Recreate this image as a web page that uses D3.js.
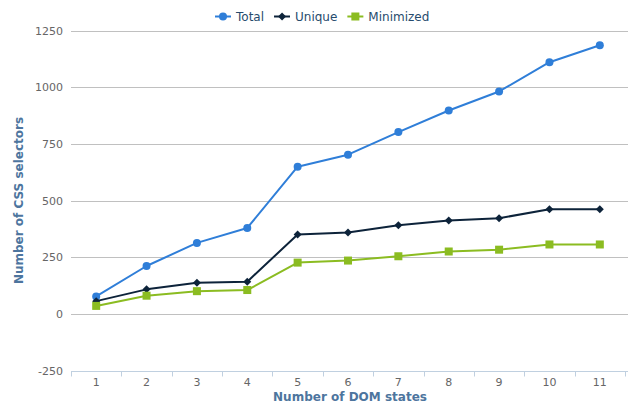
<!DOCTYPE html>
<html>
<head>
<meta charset="utf-8">
<script src="https://cdn.jsdelivr.net/npm/d3@7"></script>
<style>
  html, body { margin: 0; padding: 0; background: #fff; }
  svg { display: block; font-family: "DejaVu Sans", Verdana, sans-serif; }
</style>
</head>
<body>
<svg id="chart" width="632" height="404"></svg>
<script>
const categories = ["1", "2", "3", "4", "5", "6", "7", "8", "9", "10", "11"];
const totalValues = [77, 211, 313, 379, 649, 702, 802, 897, 981, 1110, 1185];
const uniqueValues = [56, 108, 137, 142, 350, 359, 391, 412, 422, 461, 461];
const minimizedValues = [35, 80, 100, 105, 226, 235, 254, 275, 283, 306, 306];
const yTicks = [-250, 0, 250, 500, 750, 1000, 1250];
const seriesNames = ["Total", "Unique", "Minimized"];
const seriesColors = ["#2f7ed8", "#0d233a", "#8bbc21"];
const seriesSymbols = ["circle", "diamond", "square"];
const yTitle = "Number of CSS selectors";
const xTitle = "Number of DOM states";

const series = [totalValues, uniqueValues, minimizedValues].map((v, i) => ({
  name: seriesNames[i], color: seriesColors[i], symbol: seriesSymbols[i], values: v
}));

const svg = d3.select("#chart");
const plotLeft = 71, plotRight = 625, plotTop = 30.5, plotBottom = 370.5;

const x = d3.scaleBand().domain(categories).range([plotLeft, plotRight]);
const y = d3.scaleLinear().domain([-250, 1250]).range([plotBottom, plotTop]);

// gridlines
svg.append("g").selectAll("line").data(yTicks.filter(t => t !== -250)).join("line")
  .attr("x1", plotLeft).attr("x2", plotRight + 3)
  .attr("y1", d => Math.round(y(d)) + 0.5).attr("y2", d => Math.round(y(d)) + 0.5)
  .attr("stroke", "#C0C0C0").attr("stroke-width", 1);

// y labels
svg.append("g").selectAll("text").data(yTicks).join("text")
  .attr("x", 63).attr("y", d => y(d) + 4)
  .attr("text-anchor", "end").attr("font-size", 11).attr("fill", "#666")
  .text(d => String(d));

// x axis
const xAxis = d3.axisBottom(x).tickSize(0).tickPadding(7);
const gx = svg.append("g").attr("transform", `translate(0,${Math.round(y(-250)) + 0.5})`).call(xAxis);
gx.select(".domain").attr("stroke", "#C0D0E0").attr("d", `M${plotLeft},0H${plotRight + 3}`);
gx.selectAll(".tick text").attr("font-size", 11).attr("fill", "#666")
  .attr("font-family", "DejaVu Sans, Verdana, sans-serif");
// band boundary tick marks
const bounds = categories.map(c => x(c)).concat([plotRight]);
gx.append("g").selectAll("line").data(bounds).join("line")
  .attr("x1", d => Math.round(d) + 0.5).attr("x2", d => Math.round(d) + 0.5)
  .attr("y1", 0).attr("y2", 5).attr("stroke", "#C0D0E0");

// titles
svg.append("text").attr("x", (plotLeft + plotRight) / 2 + 2).attr("y", 401)
  .attr("text-anchor", "middle").attr("font-size", 12).attr("font-weight", "bold")
  .attr("fill", "#4d759e").text(xTitle);
svg.append("text").attr("transform", `translate(23,${(plotTop + plotBottom) / 2}) rotate(-90)`)
  .attr("text-anchor", "middle").attr("font-size", 12).attr("font-weight", "bold")
  .attr("fill", "#4d759e").text(yTitle);

const cx = c => x(c) + x.bandwidth() / 2;

function drawSymbol(g, type, color, px, py) {
  if (type === "circle") {
    g.append("circle").attr("cx", px).attr("cy", py).attr("r", 4).attr("fill", color);
  } else if (type === "diamond") {
    g.append("path").attr("d", `M${px},${py - 4}L${px + 4},${py}L${px},${py + 4}L${px - 4},${py}Z`).attr("fill", color);
  } else {
    g.append("rect").attr("x", px - 4).attr("y", py - 4).attr("width", 8).attr("height", 8).attr("fill", color);
  }
}

const line = d3.line().x((d, i) => cx(categories[i])).y(d => y(d));
series.forEach(s => {
  const g = svg.append("g");
  g.append("path").datum(s.values).attr("d", line)
    .attr("fill", "none").attr("stroke", s.color).attr("stroke-width", 2)
    .attr("stroke-linejoin", "round");
  s.values.forEach((v, i) => drawSymbol(g, s.symbol, s.color, cx(categories[i]), y(v)));
});

// legend
const legend = svg.append("g");
let lx = 0;
series.forEach(s => {
  const it = legend.append("g").attr("transform", `translate(${lx},0)`);
  it.append("line").attr("x1", 0).attr("x2", 16).attr("y1", 0).attr("y2", 0)
    .attr("stroke", s.color).attr("stroke-width", 2);
  drawSymbol(it, s.symbol, s.color, 8, 0);
  const t = it.append("text").attr("x", 21).attr("y", 4.5).attr("font-size", 12)
    .attr("fill", "#274b6d").text(s.name);
  const w = t.node().getComputedTextLength();
  lx += 21 + w + 10;
});
const lw = lx - 10;
legend.attr("transform", `translate(${Math.round(322 - lw / 2)},16.5)`);
</script>
</body>
</html>
